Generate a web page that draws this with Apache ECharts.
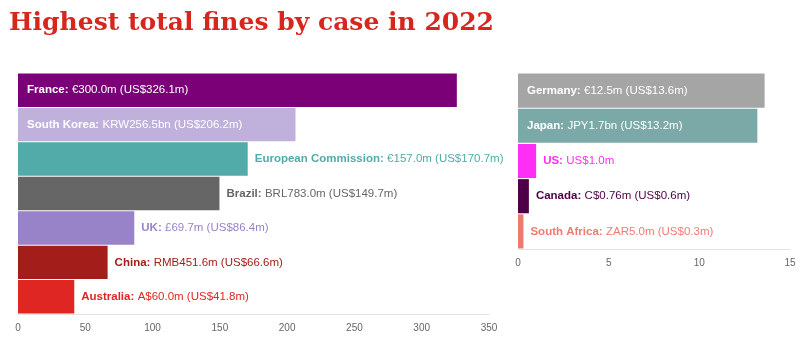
<!DOCTYPE html>
<html><head><meta charset="utf-8">
<script src="https://cdn.jsdelivr.net/npm/echarts@6/dist/echarts.min.js"></script>
<style>html,body{margin:0;padding:0;background:#fff}#c{width:800px;height:355px}</style>
</head><body><div id="c"></div>
<script>
const leftCats = ['France','South Korea','European Commission','Brazil','UK','China','Australia'];
const leftLocal = ['€300.0m','KRW256.5bn','€157.0m','BRL783.0m','£69.7m','RMB451.6m','A$60.0m'];
const leftUSD = [326.1,206.2,170.7,149.7,86.4,66.6,41.8];
const leftColors = ['#7b0078','#bfb0dc','#52aba8','#666666','#9883c9','#a31d1a','#df2622'];
const leftInside = [true,true,false,false,false,false,false];
const leftTicks = [0,50,100,150,200,250,300,350];

const rightCats = ['Germany','Japan','US','Canada','South Africa'];
const rightLocal = ['€12.5m','JPY1.7bn','US$1.0m','C$0.76m','ZAR5.0m'];
const rightUSD = [13.6,13.2,1.0,0.6,0.3];
const rightColors = ['#a5a5a5','#7aa9a7','#ff2ef5','#4d0045','#ef7b70'];
const rightInside = [true,true,false,false,false];
const rightTicks = [0,5,10,15];

function fmtLabel(local, usd, isUS){
  return isUS ? local : local + ' (US$' + usd.toFixed(1) + 'm)';
}
function build(cats, local, usd, colors, inside){
  return cats.map((c,i)=>{
    const col = inside[i] ? '#ffffff' : colors[i];
    return {
      name: c, value: usd[i],
      itemStyle: {color: colors[i]},
      label: {
        show: true,
        position: inside[i] ? 'insideLeft' : 'right',
        distance: inside[i] ? 9 : 7,
        formatter: '{b|' + c + ':} {v|' + fmtLabel(local[i], usd[i], c==='US') + '}',
        rich: {
          b: {fontWeight: 'bold', color: col, fontSize: 11.5, fontFamily: 'Liberation Sans, Arial, sans-serif'},
          v: {color: col, fontSize: 11.5, fontFamily: 'Liberation Sans, Arial, sans-serif'}
        }
      }
    };
  });
}
function xAx(idx, max, interval){
  return {
    gridIndex: idx, type: 'value', min: 0, max: max, interval: interval,
    axisLine: {show: true, lineStyle: {color: '#e3e3e3', width: 1}},
    axisTick: {show: false}, splitLine: {show: false},
    axisLabel: {color: '#666', fontSize: 10, margin: 9, fontFamily: 'Liberation Sans, Arial, sans-serif'}
  };
}
function yAx(idx, cats){
  return {gridIndex: idx, type: 'category', data: cats, inverse: true,
    axisLine: {show: false}, axisTick: {show: false}, axisLabel: {show: false}};
}
const chart = echarts.init(document.getElementById('c'), null, {renderer: 'canvas'});
chart.setOption({
  animation: false,
  title: {text: 'Highest total fines by case in 2022', left: 4, top: 6,
    textStyle: {color: '#d7261e', fontSize: 25, fontWeight: 'bold', fontFamily: 'DejaVu Serif, Georgia, serif'}},
  grid: [
    {left: 18, top: 73, width: 471, height: 241},
    {left: 518, top: 73, width: 272, height: 176}
  ],
  xAxis: [xAx(0, leftTicks[leftTicks.length-1], leftTicks[1]-leftTicks[0]), xAx(1, rightTicks[rightTicks.length-1], rightTicks[1]-rightTicks[0])],
  yAxis: [yAx(0, leftCats), yAx(1, rightCats)],
  series: [
    {type: 'bar', xAxisIndex: 0, yAxisIndex: 0, barCategoryGap: '3%', data: build(leftCats, leftLocal, leftUSD, leftColors, leftInside)},
    {type: 'bar', xAxisIndex: 1, yAxisIndex: 1, barCategoryGap: '3%', data: build(rightCats, rightLocal, rightUSD, rightColors, rightInside)}
  ]
});
</script></body></html>
